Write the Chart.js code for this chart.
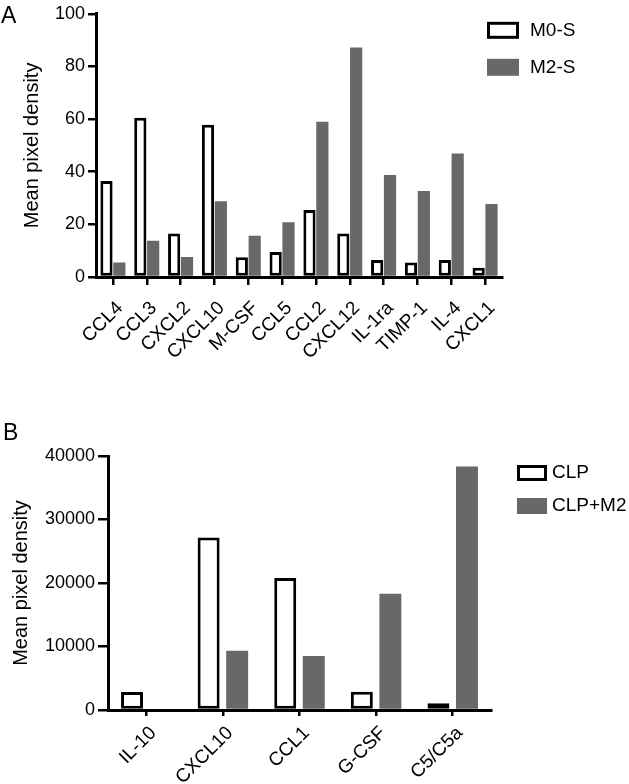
<!DOCTYPE html>
<html>
<head>
<meta charset="utf-8">
<script src="https://cdn.jsdelivr.net/npm/chart.js@4.4.1/dist/chart.umd.min.js"></script>
<style>
  body { margin: 0; background: #fff; }
  #wrap { position: relative; width: 629px; height: 784px; overflow: hidden; }
  canvas { position: absolute; left: 0; }
  #chartA { top: 0; }
  #chartB { top: 390px; }
</style>
</head>
<body>
<div id="wrap">
  <canvas id="chartA" width="629" height="390"></canvas>
  <canvas id="chartB" width="629" height="394"></canvas>
</div>
<script>
// panel A data
const cytokinesA = ['CCL4', 'CCL3', 'CXCL2', 'CXCL10', 'M-CSF', 'CCL5', 'CCL2', 'CXCL12', 'IL-1ra', 'TIMP-1', 'IL-4', 'CXCL1'];
const m0S = [36.5, 60.5, 16.5, 57.8, 7.5, 9.5, 25.5, 16.5, 6.5, 5.5, 6.5, 3.5];
const m2S = [5.5, 13.8, 7.6, 28.8, 15.7, 20.8, 59, 87.2, 38.8, 32.7, 46.9, 27.7];
const ticksA = [0, 20, 40, 60, 80, 100];

// panel B data
const cytokinesB = ['IL-10', 'CXCL10', 'CCL1', 'G-CSF', 'C5/C5a'];
const clp = [2830, 27150, 20800, 2880, 1050];
const clpM2 = [0, 9330, 8490, 18290, 38360];
const ticksB = [0, 10000, 20000, 30000, 40000];

const FONT = '"Liberation Sans", Arial, Helvetica, sans-serif';
const GREY = '#686868';
Chart.defaults.font.family = FONT;
Chart.defaults.color = '#000';

// draws panel letter and the legend at the right of the plot
const panelDecor = {
    id: 'panelDecor',
    afterDraw(chart, args, opts) {
        const ctx = chart.ctx;
        const area = chart.chartArea;
        ctx.save();
        ctx.fillStyle = '#000';
        ctx.font = '23px ' + FONT;
        ctx.textBaseline = 'alphabetic';
        ctx.textAlign = 'left';
        ctx.fillText(opts.letter, opts.letterX, opts.letterY);

        ctx.font = '19px ' + FONT;
        ctx.textBaseline = 'middle';
        chart.data.datasets.forEach((ds, i) => {
            const x = area.right + opts.dx;
            const y = area.top + opts.dy + i * opts.gap;
            if (ds.backgroundColor === '#ffffff') {
                ctx.fillStyle = '#fff';
                ctx.fillRect(x, y, opts.boxW, opts.boxH);
                ctx.strokeStyle = '#000';
                ctx.lineWidth = 3;
                ctx.strokeRect(x + 1.5, y + 1.5, opts.boxW - 3, opts.boxH - 3);
            } else {
                ctx.fillStyle = ds.backgroundColor;
                ctx.fillRect(x, y, opts.boxW, opts.boxH);
            }
            ctx.fillStyle = '#000';
            ctx.fillText(ds.label, x + opts.boxW + opts.textGap, y + opts.boxH / 2);
        });
        ctx.restore();
    }
};

function makeChart(id, cfg) {
    return new Chart(document.getElementById(id), {
        type: 'bar',
        data: {
            labels: cfg.labels,
            datasets: [{
                label: cfg.names[0],
                data: cfg.open,
                backgroundColor: '#ffffff',
                borderColor: '#000',
                borderWidth: 3,
                borderSkipped: false,
                barPercentage: cfg.barPct,
                categoryPercentage: cfg.catPct
            }, {
                label: cfg.names[1],
                data: cfg.filled,
                backgroundColor: GREY,
                borderWidth: 0,
                barPercentage: cfg.barPct,
                categoryPercentage: cfg.catPct
            }]
        },
        options: {
            responsive: false,
            animation: false,
            layout: { padding: { left: 0, top: cfg.padTop, right: cfg.padRight, bottom: 0 } },
            plugins: {
                legend: { display: false },
                tooltip: { enabled: false },
                panelDecor: cfg.decor
            },
            scales: {
                x: {
                    offset: true,
                    grid: { display: true, offset: false, drawOnChartArea: false, color: '#000', lineWidth: 2.5, tickLength: cfg.xTick },
                    border: { display: true, color: '#000', width: 3 },
                    ticks: { autoSkip: false, maxRotation: 45, minRotation: 45, padding: cfg.xPad, labelOffset: 7, font: { size: 19 } },
                    afterFit: s => { s.height = cfg.xHeight; }
                },
                y: {
                    min: 0,
                    max: cfg.ticks[cfg.ticks.length - 1],
                    afterBuildTicks: s => { s.ticks = cfg.ticks.map(v => ({ value: v })); },
                    grid: { display: true, drawOnChartArea: false, color: '#000', lineWidth: 2.5, tickLength: cfg.yTick },
                    border: { display: true, color: '#000', width: 3 },
                    ticks: { padding: 3, font: { size: 18 }, callback: v => String(v) },
                    title: { display: true, text: 'Mean pixel density', font: { size: 20 }, padding: { top: cfg.titlePad, bottom: 0 } },
                    afterFit: s => { s.width = cfg.yWidth; }
                }
            }
        },
        plugins: [panelDecor]
    });
}

makeChart('chartA', {
    labels: cytokinesA, names: ['M0-S', 'M2-S'], open: m0S, filled: m2S, ticks: ticksA,
    barPct: 0.95, catPct: 0.76, padTop: 10, padRight: 127, xHeight: 113, yWidth: 96, yTick: 8, titlePad: 20,
    xTick: 8, xPad: 12,
    decor: { letter: 'A', letterX: 1, letterY: 23, dx: -15, dy: 8, gap: 37, boxW: 32, boxH: 17, textGap: 11 }
});

makeChart('chartB', {
    labels: cytokinesB, names: ['CLP', 'CLP+M2'], open: clp, filled: clpM2, ticks: ticksB,
    barPct: 0.77, catPct: 0.745, padTop: 66, padRight: 138, xHeight: 74, yWidth: 108, yTick: 10, titlePad: 9,
    xTick: 6, xPad: 6,
    decor: { letter: 'B', letterX: 3, letterY: 50, dx: 26, dy: 9, gap: 33, boxW: 30, boxH: 16, textGap: 5 }
});
</script>
</body>
</html>
